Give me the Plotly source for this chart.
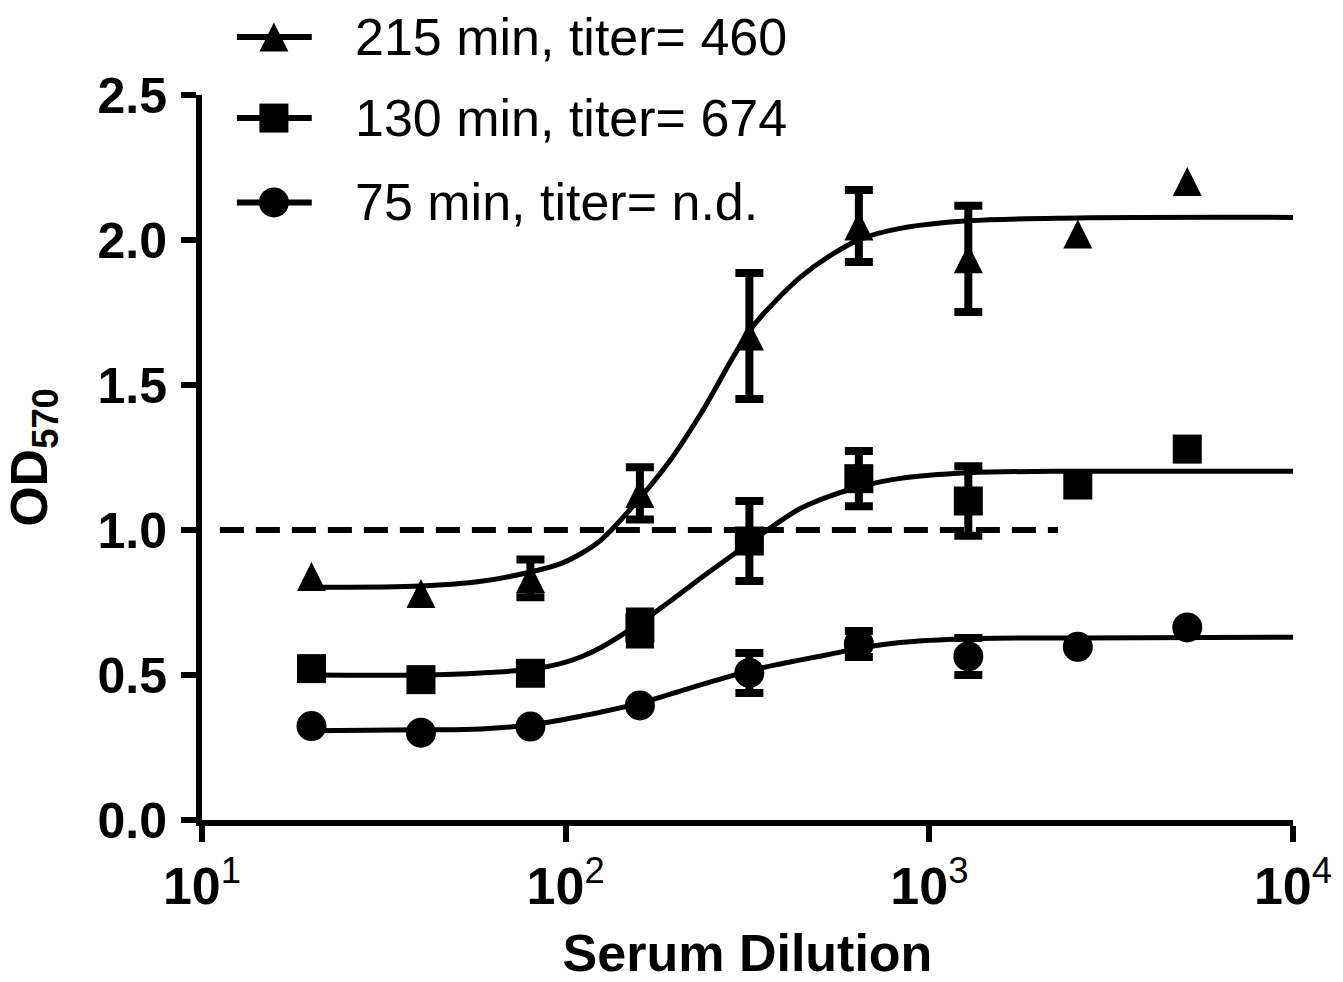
import plotly.graph_objects as go

# ---- data ----
dilution = [20, 40, 80, 160, 320, 640, 1280, 2560, 5120]

od_215 = [0.840, 0.781, 0.833, 1.126, 1.669, 2.048, 1.935, 2.021, 2.202]
err_215 = [None, None, 0.065, 0.090, 0.217, 0.124, 0.183, None, None]

od_130 = [0.522, 0.484, 0.506, 0.662, 0.962, 1.177, 1.100, 1.155, 1.279]
err_130 = [None, None, None, 0.057, 0.138, 0.095, 0.120, None, None]

od_75 = [0.324, 0.301, 0.322, 0.395, 0.507, 0.607, 0.564, 0.597, 0.664]
err_75 = [None, None, None, None, 0.069, 0.045, 0.064, None, None]

# fitted curves
fit_x = [20, 40, 58.6, 80, 97.3, 110, 125, 160, 195, 235, 320, 378, 443, 535,
         647, 832, 1280, 2560, 10000]
fit_215 = [0.803, 0.807, 0.823, 0.855, 0.885, 0.918, 0.965, 1.110, 1.245, 1.400,
           1.686, 1.790, 1.873, 1.947, 2.003, 2.040, 2.066, 2.076, 2.078]
fit_130 = [0.500, 0.500, 0.507, 0.520, 0.540, 0.562, 0.595, 0.679, 0.757, 0.834,
           0.955, 1.020, 1.075, 1.118, 1.150, 1.178, 1.197, 1.203, 1.203]
fit_75 = [0.308, 0.311, 0.314, 0.328, 0.345, 0.358, 0.372, 0.403, 0.435, 0.466,
          0.514, 0.535, 0.552, 0.572, 0.593, 0.612, 0.625, 0.628, 0.630]

cutoff_x = [11.2, 2259]
cutoff_y = [1.0, 1.0]

labels = ["215 min, titer= 460", "130 min, titer= 674", "75 min, titer= n.d."]

x_tickvals = [10, 100, 1000, 10000]
x_ticktext = ["<b>10</b><sup>1</sup>", "<b>10</b><sup>2</sup>",
              "<b>10</b><sup>3</sup>", "<b>10</b><sup>4</sup>"]
y_tickvals = [0.0, 0.5, 1.0, 1.5, 2.0, 2.5]
y_ticktext = ["0.0", "0.5", "1.0", "1.5", "2.0", "2.5"]

FONT = "Liberation Sans, Arial, sans-serif"
BLACK = "black"

tri = dict(symbol="arrow-down", angle=180, size=29, standoff=14.5, color=BLACK)
sq = dict(symbol="square", size=29, color=BLACK)
ci = dict(symbol="circle", size=30, color=BLACK)

fig = go.Figure()

# dashed cutoff line
fig.add_trace(go.Scatter(x=cutoff_x, y=cutoff_y, mode="lines",
                         line=dict(color=BLACK, width=6, dash="24px,12px"),
                         showlegend=False, hoverinfo="skip"))

# fitted curves
for fy in (fit_215, fit_130, fit_75):
    fig.add_trace(go.Scatter(x=fit_x, y=fy, mode="lines",
                             line=dict(color=BLACK, width=5, shape="spline", smoothing=1.0),
                             showlegend=False, hoverinfo="skip"))

# error bars (only where an error bar is shown)
for ys, es in ((od_215, err_215), (od_130, err_130), (od_75, err_75)):
    idx = [i for i, e in enumerate(es) if e is not None]
    fig.add_trace(go.Scatter(x=[dilution[i] for i in idx], y=[ys[i] for i in idx],
                             mode="markers", marker=dict(size=1, color="rgba(0,0,0,0)"),
                             error_y=dict(type="data", array=[es[i] for i in idx],
                                          visible=True, color=BLACK, thickness=8, width=14),
                             showlegend=False, hoverinfo="skip"))

# data points
for ys, mk in ((od_215, tri), (od_130, sq), (od_75, ci)):
    fig.add_trace(go.Scatter(x=dilution, y=ys, mode="markers", marker=mk,
                             showlegend=False, cliponaxis=False))

# custom legend drawn on an auxiliary hidden axis pair
leg_rows = [0.85, 0.52, 0.177]
leg_line_x = [0.032, 0.1006]
leg_mark_x = 0.0659
for row, mk, lab in zip(leg_rows, (tri, sq, ci), labels):
    fig.add_trace(go.Scatter(x=leg_line_x, y=[row, row], mode="lines",
                             line=dict(color=BLACK, width=6), xaxis="x2", yaxis="y2",
                             showlegend=False, hoverinfo="skip"))
    fig.add_trace(go.Scatter(x=[leg_mark_x], y=[row], mode="markers", marker=mk,
                             xaxis="x2", yaxis="y2", showlegend=False, hoverinfo="skip",
                             cliponaxis=False))
    fig.add_annotation(x=0.138, y=row, xref="x2", yref="y2", text=lab,
                       showarrow=False, xanchor="left", yanchor="middle",
                       font=dict(family=FONT, size=52, color=BLACK))

fig.update_layout(
    width=1343, height=982,
    margin=dict(l=202, r=50, t=0, b=162, autoexpand=False),
    paper_bgcolor="white", plot_bgcolor="rgba(0,0,0,0)",
    showlegend=False,
    font=dict(family=FONT, color=BLACK),
    xaxis=dict(type="log", range=[1, 4], domain=[0, 1], anchor="y", automargin=False,
               tickvals=x_tickvals, ticktext=x_ticktext,
               ticks="outside", ticklen=16, tickwidth=6, tickcolor=BLACK,
               showline=True, linewidth=6, linecolor=BLACK,
               showgrid=False, zeroline=False,
               tickfont=dict(family=FONT, size=52, color=BLACK),
               title=dict(text="<b>Serum Dilution</b>", standoff=30,
                          font=dict(family=FONT, size=52, color=BLACK))),
    yaxis=dict(range=[0, 2.5], domain=[0, 725 / 820], anchor="x", automargin=False,
               tickvals=y_tickvals, ticktext=y_ticktext,
               ticks="outside", ticklen=15, tickwidth=6, tickcolor=BLACK,
               showline=True, linewidth=6, linecolor=BLACK,
               showgrid=False, zeroline=False, ticklabelstandoff=4,
               tickfont=dict(family=FONT, size=50, color=BLACK, weight="bold"),
               title=dict(text="<b>OD<sub>570</sub></b>", standoff=36,
                          font=dict(family=FONT, size=52, color=BLACK))),
    xaxis2=dict(domain=[0, 1], range=[0, 1], anchor="y2", visible=False, fixedrange=True),
    yaxis2=dict(domain=[0.7, 1.0], range=[0, 1], anchor="x2", visible=False, fixedrange=True),
)

fig.write_html("out.html", config={"displayModeBar": False},
               post_script="document.body.style.margin='0px';")
